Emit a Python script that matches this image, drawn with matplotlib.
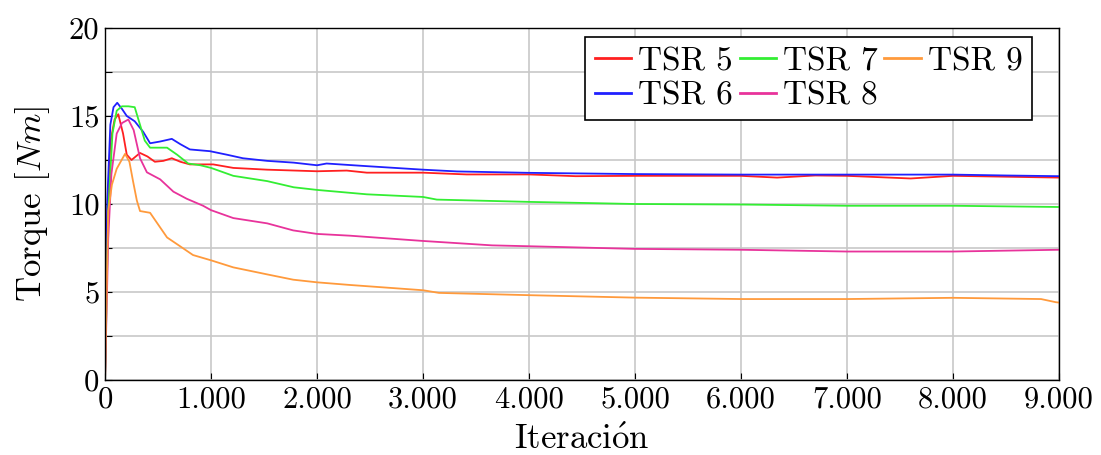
import numpy as np
import matplotlib.pyplot as plt
from matplotlib.ticker import MultipleLocator, FuncFormatter

plt.rcParams['font.family'] = ['cmr10', 'DejaVu Serif']
plt.rcParams['mathtext.fontset'] = 'cm'
plt.rcParams['axes.formatter.use_mathtext'] = True

#### data (iteration, torque [Nm])
it_tsr5 = [0, 20, 50, 90, 125, 170, 205, 250, 330, 400, 470, 550, 630, 710, 800, 900, 1020, 1210, 1530,
           2000, 2280, 2470, 3000, 3410, 4000, 4440, 5000, 5500, 6000, 6340, 6700, 7000, 7600, 8000, 8500, 9000]
tq_tsr5 = [0, 9.0, 13.5, 14.8, 15.1, 14.0, 12.8, 12.5, 12.9, 12.7, 12.4, 12.45, 12.6, 12.4, 12.25, 12.25, 12.25, 12.05, 11.95,
           11.86, 11.9, 11.78, 11.78, 11.68, 11.68, 11.58, 11.6, 11.6, 11.6, 11.5, 11.62, 11.6, 11.45, 11.6, 11.55, 11.5]

it_tsr6 = [0, 20, 50, 80, 115, 160, 205, 280, 360, 425, 520, 630, 710, 800, 990, 1150, 1300, 1530, 1780,
           2000, 2090, 2470, 3000, 3320, 4000, 5000, 6000, 7000, 8000, 8500, 9000]
tq_tsr6 = [0, 10.0, 14.5, 15.5, 15.75, 15.4, 15.0, 14.7, 14.1, 13.45, 13.55, 13.7, 13.4, 13.1, 13.0, 12.8, 12.6, 12.45, 12.35,
           12.2, 12.3, 12.15, 11.95, 11.85, 11.77, 11.7, 11.67, 11.67, 11.67, 11.62, 11.58]

it_tsr7 = [0, 30, 70, 110, 160, 220, 280, 330, 375, 425, 585, 680, 785, 900, 1000, 1210, 1530, 1780,
           2000, 2470, 3000, 3130, 4000, 5000, 6000, 7000, 8000, 9000]
tq_tsr7 = [0, 9.5, 14.0, 15.3, 15.55, 15.55, 15.5, 14.5, 13.6, 13.2, 13.2, 12.8, 12.3, 12.2, 12.05, 11.6, 11.3, 10.95,
           10.8, 10.55, 10.4, 10.25, 10.12, 10.0, 9.97, 9.9, 9.9, 9.83]

it_tsr8 = [0, 30, 60, 110, 160, 220, 270, 330, 395, 520, 645, 770, 925, 1000, 1210, 1530, 1775,
           2000, 2310, 3000, 3650, 4000, 5000, 6000, 7000, 8000, 9000]
tq_tsr8 = [0, 8.0, 11.7, 14.0, 14.6, 14.8, 14.2, 12.6, 11.8, 11.4, 10.7, 10.3, 9.9, 9.65, 9.2, 8.9, 8.5,
           8.3, 8.2, 7.9, 7.65, 7.6, 7.45, 7.4, 7.3, 7.3, 7.4]

it_tsr9 = [0, 15, 30, 65, 110, 189, 230, 264, 300, 330, 425, 585, 708, 830, 1000, 1210, 1370, 1530, 1775,
           2000, 2310, 3000, 3150, 4000, 5000, 6000, 7000, 8000, 8830, 8970, 9000]
tq_tsr9 = [0, 5.0, 9.6, 11.1, 12.0, 12.85, 12.4, 11.3, 10.2, 9.6, 9.5, 8.1, 7.6, 7.1, 6.8, 6.4, 6.2, 6.0, 5.7,
           5.55, 5.4, 5.1, 4.95, 4.82, 4.68, 4.6, 4.6, 4.67, 4.6, 4.42, 4.4]

series = [
    (it_tsr5, tq_tsr5, "TSR 5", "#ff2020"),
    (it_tsr6, tq_tsr6, "TSR 6", "#2020ff"),
    (it_tsr7, tq_tsr7, "TSR 7", "#33ee33"),
    (it_tsr8, tq_tsr8, "TSR 8", "#e8339b"),
    (it_tsr9, tq_tsr9, "TSR 9", "#ff9a3c"),
]

fig = plt.figure(figsize=(11.01, 4.55), dpi=100)
ax = fig.add_axes([0.0954, 0.1648, 0.8665, 0.7737])

for x, y, name, col in series:
    ax.plot(x, y, color=col, lw=1.3, label=name)

ax.set_xlim(0, 9000)
ax.set_ylim(0, 20)
ax.xaxis.set_major_locator(MultipleLocator(1000))
ax.yaxis.set_major_locator(MultipleLocator(5))
ax.yaxis.set_minor_locator(MultipleLocator(2.5))
ax.xaxis.set_major_formatter(FuncFormatter(lambda v, p: f"{int(v):,}".replace(",", ".")))
ax.yaxis.set_major_formatter(FuncFormatter(lambda v, p: f"{int(v)}"))
ax.grid(which="both", color="#c8c8c8", lw=1.2)
ax.set_axisbelow(True)
ax.tick_params(which="both", direction="in", length=5, width=0.8, labelsize=22, pad=4)
for s in ax.spines.values():
    s.set_linewidth(1.0)

ax.set_xlabel(r"Iteraci$\acute{\mathrm{o}}$n", fontsize=25, labelpad=8)
ax.set_ylabel(r"Torque [$Nm$]", fontsize=25, labelpad=12)

leg = ax.legend(ncol=3, loc="upper right", bbox_to_anchor=(0.972, 0.975), fontsize=24,
                handlelength=1.1, handletextpad=0.2, columnspacing=0.2, labelspacing=0.15,
                borderpad=0.3, borderaxespad=0.0, fancybox=False, framealpha=1.0)
leg.get_frame().set_edgecolor("black")
leg.get_frame().set_linewidth(1.2)
for line in leg.get_lines():
    line.set_linewidth(2.0)

plt.savefig("out.png", dpi=100)
